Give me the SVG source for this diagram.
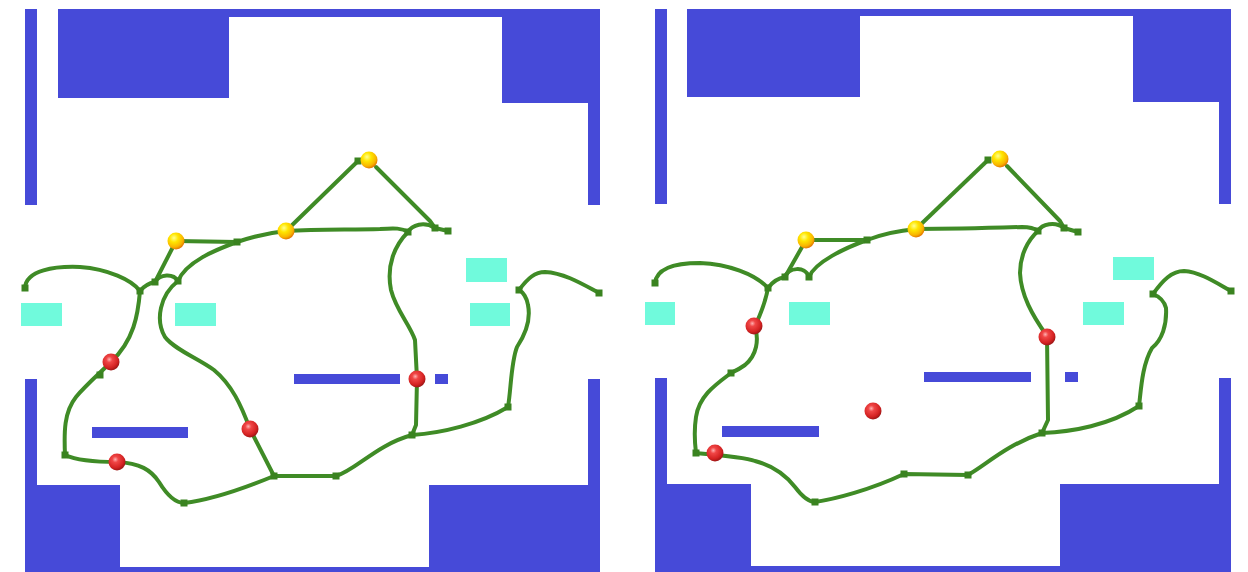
<svg xmlns="http://www.w3.org/2000/svg" width="1248" height="572" viewBox="0 0 1248 572">
  <style>
    .wall { fill: #464ad8; }
    .zone { fill: #70fadc; }
    .edge { fill: none; stroke: #3f8b26; stroke-width: 4; stroke-linecap: round; stroke-linejoin: round; }
    .way { fill: #3a8320; }
    .red { fill: url(#redBall); }
    .gold { fill: url(#goldBall); }
  </style>
  <defs>
    <radialGradient id="redBall" cx="40%" cy="35%" r="70%">
      <stop offset="0" stop-color="#ffb0b0"/>
      <stop offset="0.25" stop-color="#f04646"/>
      <stop offset="0.7" stop-color="#d42222"/>
      <stop offset="1" stop-color="#8e1212"/>
    </radialGradient>
    <radialGradient id="goldBall" cx="38%" cy="32%" r="72%">
      <stop offset="0" stop-color="#ffff90"/>
      <stop offset="0.35" stop-color="#ffe600"/>
      <stop offset="0.75" stop-color="#f8b400"/>
      <stop offset="1" stop-color="#e06a00"/>
    </radialGradient>
    <rect id="sq" x="-3.5" y="-3.5" width="7" height="7" class="way"/>
  </defs>

  <rect width="1248" height="572" fill="#ffffff"/>

  <!-- left map: walls -->
  <g id="mapA-walls">
    <rect class="wall" x="25" y="9" width="12" height="196"/>
    <rect class="wall" x="58" y="9" width="542" height="8"/>
    <rect class="wall" x="58" y="9" width="171" height="89"/>
    <rect class="wall" x="502" y="9" width="98" height="94"/>
    <rect class="wall" x="588" y="9" width="12" height="196"/>
    <rect class="wall" x="25" y="379" width="12" height="193"/>
    <rect class="wall" x="25" y="485" width="95" height="87"/>
    <rect class="wall" x="25" y="567" width="575" height="5"/>
    <rect class="wall" x="429" y="485" width="171" height="87"/>
    <rect class="wall" x="588" y="379" width="12" height="193"/>
    <rect class="wall" x="92" y="427" width="96" height="11"/>
    <rect class="wall" x="294" y="374" width="106" height="10"/>
    <rect class="wall" x="435" y="374" width="13" height="10"/>
  </g>
  <g id="mapA-zones">
    <rect class="zone" x="21" y="303" width="41" height="23"/>
    <rect class="zone" x="175" y="303" width="41" height="23"/>
    <rect class="zone" x="466" y="258" width="41" height="24"/>
    <rect class="zone" x="470" y="303" width="40" height="23"/>
  </g>

  <!-- right map: walls -->
  <g id="mapB-walls">
    <rect class="wall" x="655" y="9" width="12" height="195"/>
    <rect class="wall" x="687" y="9" width="544" height="7"/>
    <rect class="wall" x="687" y="9" width="173" height="88"/>
    <rect class="wall" x="1133" y="9" width="98" height="93"/>
    <rect class="wall" x="1219" y="9" width="12" height="195"/>
    <rect class="wall" x="655" y="378" width="12" height="194"/>
    <rect class="wall" x="655" y="484" width="96" height="88"/>
    <rect class="wall" x="655" y="566" width="576" height="6"/>
    <rect class="wall" x="1060" y="484" width="171" height="88"/>
    <rect class="wall" x="1219" y="378" width="12" height="194"/>
    <rect class="wall" x="722" y="426" width="97" height="11"/>
    <rect class="wall" x="924" y="372" width="107" height="10"/>
    <rect class="wall" x="1065" y="372" width="13" height="10"/>
  </g>
  <g id="mapB-zones">
    <rect class="zone" x="645" y="302" width="30" height="23"/>
    <rect class="zone" x="789" y="302" width="41" height="23"/>
    <rect class="zone" x="1113" y="257" width="41" height="23"/>
    <rect class="zone" x="1083" y="302" width="41" height="23"/>
  </g>

  <!-- road network, both maps -->
  <g id="connectors">
    <!-- left map -->
    <path class="edge" d="M358,161 L286,231"/>
    <path class="edge" d="M376,167 L430,221 L435,228"/>
    <path class="edge" d="M286,231 C320,229 352,230 380,229 C395,228 402,228 408,232"/>
    <path class="edge" d="M408,232 C412,225 424,221 435,228 L448,231"/>
    <path class="edge" d="M176,241 L237,242 C252,237 266,233 286,231"/>
    <path class="edge" d="M237,242 C215,250 186,262 178,281"/>
    <path class="edge" d="M176,241 L155,282"/>
    <path class="edge" d="M155,282 C160,274 173,273 178,281"/>
    <path class="edge" d="M140,291 C144,286 150,283 155,282"/>
    <path class="edge" d="M25,288 C26,270 55,266 80,267 C108,269 132,280 140,291"/>
    <path class="edge" d="M140,291 C138,315 134,340 111,362 C100,373 86,385 76,397 C64,412 64,432 65,455 C76,460 96,462 117,462 C140,463 151,470 159,482 C167,495 176,503 184,503 C210,500 245,488 274,476 L336,476 C356,470 376,445 412,435 C442,433 480,424 508,407 C511,390 511,362 517,347 C525,335 531,320 528,305 C527,298 523,292 519,290"/>
    <path class="edge" d="M519,290 C528,278 535,272 545,272 C565,273 584,285 599,293"/>
    <path class="edge" d="M178,281 C160,295 155,320 165,337 C175,350 198,358 214,370 C232,385 241,405 250,429 L274,476"/>
    <path class="edge" d="M408,232 C395,245 386,265 391,290 C396,310 410,325 415,340 L417,379 L416,425 L412,435"/>

    <!-- right map -->
    <path class="edge" d="M988,160 L916,229"/>
    <path class="edge" d="M1007,166 L1060,221 L1064,228"/>
    <path class="edge" d="M916,229 C950,229 990,228 1022,227 C1030,227 1034,228 1038,231"/>
    <path class="edge" d="M1038,231 C1042,224 1055,221 1064,228 L1078,232"/>
    <path class="edge" d="M806,240 L867,240 C880,235 895,231 916,229"/>
    <path class="edge" d="M867,240 C845,248 815,262 809,277"/>
    <path class="edge" d="M806,240 L785,277"/>
    <path class="edge" d="M785,277 C788,268 805,265 809,277"/>
    <path class="edge" d="M768,288 C773,281 779,278 785,277"/>
    <path class="edge" d="M655,283 C657,266 680,263 700,263 C728,264 755,274 768,288"/>
    <path class="edge" d="M768,288 C765,305 760,315 755,326 C759,340 757,355 745,365 C738,370 733,372 731,373 C715,385 699,396 696,417 C694,430 695,445 696,453 C720,455 745,457 755,461 C775,466 788,478 795,487 C801,495 808,502 815,502 C835,499 870,490 904,474 L968,475 C986,465 1006,445 1042,433 C1072,432 1110,425 1139,406 C1141,390 1142,365 1152,348 C1162,340 1167,325 1166,308 C1164,300 1158,296 1153,294"/>
    <path class="edge" d="M1153,294 C1163,280 1172,271 1184,271 C1200,272 1215,282 1231,291"/>
    <path class="edge" d="M1038,231 C1028,240 1020,255 1020,273 C1021,295 1032,315 1047,336 L1048,420 L1042,433"/>
  </g>

  <!-- waypoints -->
  <g id="mapA-waypoints">
    <use href="#sq" x="358" y="161"/>
    <use href="#sq" x="435" y="228"/>
    <use href="#sq" x="448" y="231"/>
    <use href="#sq" x="408" y="232"/>
    <use href="#sq" x="237" y="242"/>
    <use href="#sq" x="155" y="282"/>
    <use href="#sq" x="178" y="281"/>
    <use href="#sq" x="140" y="291"/>
    <use href="#sq" x="25" y="288"/>
    <use href="#sq" x="519" y="290"/>
    <use href="#sq" x="599" y="293"/>
    <use href="#sq" x="508" y="407"/>
    <use href="#sq" x="412" y="435"/>
    <use href="#sq" x="336" y="476"/>
    <use href="#sq" x="274" y="476"/>
    <use href="#sq" x="184" y="503"/>
    <use href="#sq" x="65" y="455"/>
    <use href="#sq" x="100" y="375"/>
  </g>
  <g id="mapB-waypoints">
    <use href="#sq" x="988" y="160"/>
    <use href="#sq" x="1064" y="228"/>
    <use href="#sq" x="1078" y="232"/>
    <use href="#sq" x="1038" y="231"/>
    <use href="#sq" x="867" y="240"/>
    <use href="#sq" x="785" y="277"/>
    <use href="#sq" x="809" y="277"/>
    <use href="#sq" x="768" y="288"/>
    <use href="#sq" x="655" y="283"/>
    <use href="#sq" x="1153" y="294"/>
    <use href="#sq" x="1231" y="291"/>
    <use href="#sq" x="1139" y="406"/>
    <use href="#sq" x="1042" y="433"/>
    <use href="#sq" x="968" y="475"/>
    <use href="#sq" x="904" y="474"/>
    <use href="#sq" x="815" y="502"/>
    <use href="#sq" x="696" y="453"/>
    <use href="#sq" x="731" y="373"/>
  </g>

  <!-- agents: left map -->
  <g id="a-gold-1"><circle class="gold" cx="369" cy="160" r="8.5"/></g>
  <g id="a-gold-2"><circle class="gold" cx="286" cy="231" r="8.5"/></g>
  <g id="a-gold-3"><circle class="gold" cx="176" cy="241" r="8.5"/></g>
  <g id="a-red-1"><circle class="red" cx="111" cy="362" r="8.5"/></g>
  <g id="a-red-2"><circle class="red" cx="117" cy="462" r="8.5"/></g>
  <g id="a-red-3"><circle class="red" cx="250" cy="429" r="8.5"/></g>
  <g id="a-red-4"><circle class="red" cx="417" cy="379" r="8.5"/></g>

  <!-- agents: right map -->
  <g id="b-gold-1"><circle class="gold" cx="1000" cy="159" r="8.5"/></g>
  <g id="b-gold-2"><circle class="gold" cx="916" cy="229" r="8.5"/></g>
  <g id="b-gold-3"><circle class="gold" cx="806" cy="240" r="8.5"/></g>
  <g id="b-red-1"><circle class="red" cx="754" cy="326" r="8.5"/></g>
  <g id="b-red-2"><circle class="red" cx="715" cy="453" r="8.5"/></g>
  <g id="b-red-3"><circle class="red" cx="873" cy="411" r="8.5"/></g>
  <g id="b-red-4"><circle class="red" cx="1047" cy="337" r="8.5"/></g>
</svg>
